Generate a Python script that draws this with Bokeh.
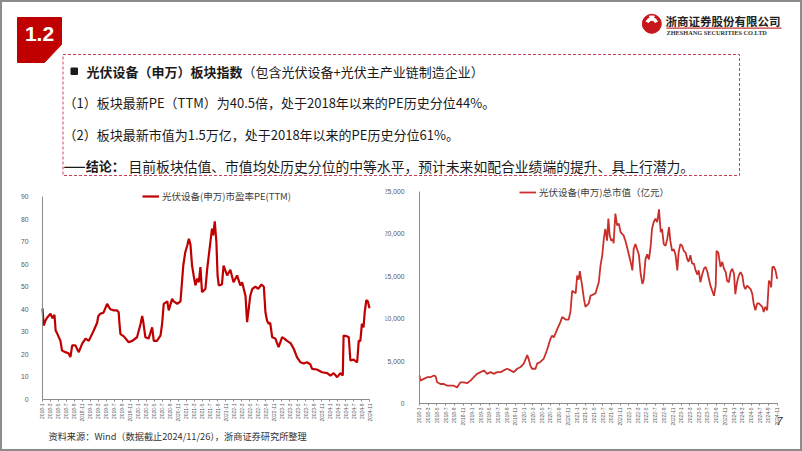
import math
from bokeh.plotting import figure
from bokeh.layouts import column, row
from bokeh.models import (Range1d, FixedTicker, Legend, LegendItem, Label, LinearAxis,
                          NumeralTickFormatter)
from bokeh.core.properties import value
from bokeh.embed import file_html
from bokeh.resources import INLINE

CJK = "Noto Sans CJK SC"
LAT = "Liberation Sans"

# ---------------- data ----------------
# x position = months since 2018-01
pe_month = [0.0, 0.3, 0.75, 1.25, 2.0, 2.5, 3.0, 3.3, 3.75, 4.5, 4.9, 5.75, 6.5, 7.0, 7.45,
            8.25, 9.1, 9.95, 10.8, 11.6, 12.85, 13.7, 14.0, 14.5, 15.3, 16.2, 17.0, 17.9,
            18.7, 19.1, 19.3, 19.55, 20.4, 21.6, 22.5, 23.7, 24.6, 25.0, 25.3, 25.8, 26.6,
            27.5, 27.9, 28.7, 29.6, 30.0, 30.4, 31.3, 31.65, 32.5, 32.9, 33.8, 34.6, 35.3,
            35.8, 36.3, 36.7, 37.1, 37.5, 37.9, 38.35, 38.8, 39.2, 39.6, 40.0, 40.85, 41.3,
            41.7, 42.1, 42.5, 42.8, 43.2, 43.6, 43.9, 44.2, 45.0, 45.4, 46.3, 47.1, 47.9,
            48.8, 49.6, 50.05, 50.9, 51.3, 51.7, 52.1, 52.6, 53.4, 54.1, 54.9, 55.5, 55.9,
            56.3, 56.7, 57.1, 57.6, 58.4, 59.2, 60.1, 60.65, 61.3, 62.2, 63.0, 63.8, 64.7,
            65.5, 66.3, 67.2, 67.6, 68.8, 70.1, 71.4, 72.2, 73.0, 73.9, 74.7, 75.3, 75.5,
            76.4, 76.8, 77.2, 78.0, 78.9, 79.3, 79.7, 80.1, 80.5, 80.8, 81.2, 81.6, 82.0]
pe_value = [40.4, 32.8, 35, 36.5, 38, 36, 37.5, 30.6, 29, 26, 21.7, 21, 20.5, 18.8, 24,
            24, 21, 24.8, 27, 26, 30.6, 34, 37, 38, 38.5, 42.4, 40, 39.5,
            39.5, 38.7, 33.6, 29, 28, 25.4, 26, 27.6, 33.6, 37, 34, 27.6, 27,
            32, 26, 26, 28.4, 33.6, 42.4, 43.5, 39.5, 44.6, 43.5, 42.4, 43.5, 59.4,
            65.3, 68.3, 71.3, 68.7, 59.4, 55, 50.6, 53.6, 52, 58.7, 47.6, 49, 57.9,
            63.9, 69.8, 75.7, 72.8, 79, 69.8, 55, 50.6, 51, 59.4, 55, 57.5, 52,
            55, 50.6, 52, 46, 34.3, 40, 46, 49, 50, 49, 51, 50, 38.7,
            35, 33.6, 34, 27.6, 27, 23.2, 27.6, 27, 26, 25, 22.5, 18.8, 16.5,
            16, 16.5, 15.5, 13.6, 13.3, 12.1, 11.7, 10.6, 11.7, 9.9, 11.7, 10.6, 28.4,
            28, 27.6, 17.3, 17.7, 16.5, 26, 26, 33.6, 32, 38.7, 44, 43.5, 40.5]

cap_month = [0.0, 0.2, 1.0, 1.75, 2.5, 3.3, 3.7, 4.05, 4.8, 5.6, 6.35, 7.1, 7.85, 8.6,
             9.4, 10.15, 10.9, 11.7, 12.45, 13.2, 14.0, 14.75, 15.5, 16.3, 17.0, 17.8,
             18.6, 19.3, 20.1, 20.9, 21.6, 22.4, 23.15, 23.9, 24.7, 25.05, 25.4, 25.8,
             26.6, 26.95, 27.7, 28.5, 29.3, 30.0, 30.4, 30.8, 31.6, 32.3, 32.7, 33.5,
             34.2, 34.6, 35.0, 35.8, 36.15, 36.5, 36.75, 37.3, 37.7, 38.05, 38.8, 39.2,
             40.0, 40.35, 41.1, 41.5, 41.9, 42.25, 42.6, 43.0, 43.3, 43.6, 43.95, 44.3,
             44.5, 44.9, 45.3, 45.7, 46.1, 46.8, 47.2, 47.6, 48.4, 48.8, 49.1, 49.5,
             50.3, 50.7, 51.1, 51.4, 51.8, 52.2, 52.6, 53.0, 53.3, 53.7, 54.1, 54.5,
             54.9, 55.3, 55.6, 56.0, 56.4, 56.8, 57.2, 57.5, 57.9, 58.3, 58.7, 59.1,
             59.4, 59.8, 60.2, 60.6, 61.0, 61.4, 61.7, 62.1, 62.5, 62.9, 63.3, 63.7,
             64.0, 64.4, 64.8, 65.2, 65.6, 66.0, 66.3, 66.7, 67.1, 67.5, 67.9, 68.1,
             68.5, 69.0, 69.4, 69.8, 70.2, 70.5, 70.9, 71.3, 71.7, 72.1, 72.4, 72.8,
             73.2, 73.6, 74.0, 74.35, 74.7, 75.1, 75.5, 75.9, 76.3, 76.6, 77.0, 77.4,
             77.8, 78.2, 78.6, 78.9, 79.3, 79.7, 80.1, 80.5, 80.6, 80.9, 81.25, 81.6, 82.0]
cap_value = [3300, 2700, 2900, 3100, 3100, 3300, 3200, 2500, 2300, 2300, 2100, 2100, 2100, 1900,
             2500, 2500, 2400, 2700, 3100, 3500, 3700, 3900, 3500, 3700, 3500, 3700,
             3700, 3900, 4100, 3900, 3700, 4100, 4300, 4700, 5700, 5200, 4500, 4100,
             4100, 4700, 4900, 5300, 6400, 7600, 8000, 7800, 8800, 9600, 10200, 9900,
             9900, 10800, 13300, 13000, 15100, 14600, 15600, 13800, 12300, 11400, 11800, 12700,
             12900, 13000, 14300, 16300, 17500, 19400, 20600, 19200, 21800, 19800, 19200, 19400,
             18900, 22400, 21000, 21200, 20200, 19800, 19200, 18400, 16700, 15700, 18200, 18800,
             17500, 15300, 14100, 14600, 17000, 17600, 17000, 18600, 20600, 21400, 21800, 21400,
             22900, 20200, 20600, 18800, 18600, 19400, 20800, 19200, 18000, 18200, 17500, 15700,
             17800, 18800, 18600, 18000, 17800, 17000, 16700, 17500, 16500, 16500, 15700, 15200,
             15700, 14300, 15200, 15900, 16100, 15500, 14800, 13900, 13300, 12700, 13900, 18000,
             17800, 16100, 16700, 15900, 15500, 14500, 14300, 15500, 15900, 15300, 12900, 14300,
             15100, 15500, 15100, 13900, 13500, 13900, 13700, 13500, 12900, 11800, 11000, 11800,
             11800, 11600, 11400, 10800, 11400, 11000, 14500, 14100, 13700, 16100, 16100, 15700, 14700]

x_tick_pos = list(range(0, 83, 2))
x_tick_labels = [f"{yr}-{mo}" for yr in range(2018, 2025) for mo in (1, 3, 5, 7, 9, 11)]
pe_ticks = [0, 10, 20, 30, 40, 50, 60, 70, 80, 90]
cap_ticks = [0, 5000, 10000, 15000, 20000, 25000]

pe_label = "光伏设备(申万)市盈率PE(TTM)"
cap_label = "光伏设备(申万)总市值（亿元）"
source_text = "资料来源：Wind（数据截止2024/11/26），浙商证券研究所整理"
page_no = "7"

TOP_H = 177
CHART_H = 451 - TOP_H

# ---------------- header / text box ----------------
top = figure(width=802, height=TOP_H, x_range=Range1d(0, 802), y_range=Range1d(TOP_H, 0),
             output_backend="svg", toolbar_location=None, min_border=0,
             x_axis_type=None, y_axis_type=None)
top.grid.visible = False
top.outline_line_color = None
top.background_fill_color = None
top.border_fill_color = None

# section badge
top.patch([17, 61, 61, 44, 17], [17, 17, 44, 62, 62], color="#C00000")
top.text([39], [33], text=["1.2"], text_font=value(LAT), text_font_style="bold",
         text_font_size="21px", text_color="white", text_align="center", text_baseline="middle")

# logo
top.circle([651.3], [23.3], radius=9.5, color="#C8161D")
top.annular_wedge([651.3], [23.0], inner_radius=3.2, outer_radius=6.0,
                  start_angle=math.radians(20), end_angle=math.radians(160), color="white")
top.scatter([651.3], [17.0], size=5, marker="triangle", color="white", angle=math.pi)
top.text([665], [20], text=["浙商证券股份有限公司"], text_font=value(CJK), text_font_style="bold",
         text_font_size="11.5px", text_color="#222222", text_baseline="middle")
top.segment([666], [27.6], [781], [27.6], line_color="#C00000", line_width=1)
top.text([666], [32], text=["ZHESHANG SECURITIES CO.LTD"], text_font=value("Liberation Serif"),
         text_font_style="bold", text_font_size="6.3px", text_color="#333333", text_baseline="middle")

# dashed box
top.quad(left=[62.5], right=[739], top=[54], bottom=[175], fill_color=None,
         line_color="#C8405A", line_width=1, line_dash="3 2")

# bullet
top.quad(left=[70.5], right=[77], top=[67.5], bottom=[74], color="#1a1a1a")

bold_kw = dict(text_font=value(CJK), text_font_style="bold", text_font_size="13px",
               text_color="#1a1a1a", text_baseline="middle")
norm_kw = dict(text_font=value(CJK), text_font_size="13px",
               text_color="#1a1a1a", text_baseline="middle")
top.text([86], [71], text=["光伏设备（申万）板块指数"], **bold_kw)
top.text([242], [71], text=["（包含光伏设备+光伏主产业链制造企业）"], **norm_kw)
top.text([63, 63], [102, 134],
         text=["（1）板块最新PE（TTM）为40.5倍，处于2018年以来的PE历史分位44%。",
               "（2）板块最新市值为1.5万亿，处于2018年以来的PE历史分位61%。"], **norm_kw)
top.text([63], [165], text=["——结论："], **bold_kw)
top.text([128], [165], text=["目前板块估值、市值均处历史分位的中等水平，预计未来如配合业绩端的提升、具上行潜力。"],
         text_font=value(CJK), text_font_size="13.8px", text_color="#1a1a1a", text_baseline="middle")


# ---------------- charts ----------------
# Each chart's frame covers its whole canvas; the axes are pinned at 0 with fixed_location
def make_chart(width, x_lo, x_hi, y_lo, y_hi, ymax, yticks, ystandoff):
    p = figure(width=width, height=CHART_H, x_range=Range1d(x_lo, x_hi), y_range=Range1d(y_lo, y_hi),
               output_backend="svg", toolbar_location=None, min_border=0,
               x_axis_type=None, y_axis_type=None)
    p.grid.visible = False
    p.outline_line_color = None
    p.background_fill_color = None
    p.border_fill_color = None
    ax = LinearAxis(fixed_location=0, bounds=(0, 82), ticker=FixedTicker(ticks=x_tick_pos))
    ax.major_label_overrides = {t: lab for t, lab in zip(x_tick_pos, x_tick_labels)}
    ax.major_label_orientation = math.pi / 2
    ax.major_label_text_font = LAT
    ax.major_label_text_font_size = "5px"
    ax.major_label_text_color = "#595959"
    ax.major_label_standoff = 2
    ax.major_tick_out = 2
    ax.major_tick_in = 0
    ax.minor_tick_line_color = None
    ax.axis_line_color = "#8a8a8a"
    ax.major_tick_line_color = "#8a8a8a"
    p.add_layout(ax, "below")
    ay = LinearAxis(fixed_location=0, bounds=(0, ymax), ticker=FixedTicker(ticks=yticks))
    ay.major_label_text_font = LAT
    ay.major_label_text_font_size = "6.8px"
    ay.major_label_text_color = "#595959"
    ay.major_label_standoff = ystandoff
    ay.major_tick_line_color = None
    ay.minor_tick_line_color = None
    ay.axis_line_color = "#8a8a8a"
    p.add_layout(ay, "left")
    return p, ay


def make_legend(label, renderer, loc):
    return Legend(items=[LegendItem(label=label, renderers=[renderer])], location=loc,
                  padding=0, margin=0, spacing=0, glyph_width=17, glyph_height=10,
                  label_height=10, label_standoff=3, border_line_color=None,
                  background_fill_alpha=0, label_text_font=CJK, label_text_font_size="9.5px",
                  label_text_color="#404040")


# left chart: canvas x 0..385, frame maps month 0..82 -> px 42..369 ; 0..90 -> local y 222..19
left, _ = make_chart(385, -10.532, 86.01, -23.05, 98.42, 90, pe_ticks, 8)
r1 = left.line(pe_month, pe_value, line_color="#C00000", line_width=2.2)
left.add_layout(make_legend(pe_label, r1, (142, 248)))
left.add_layout(Label(x=48, y=16, x_units="screen", y_units="screen", text=source_text,
                      text_font=CJK, text_font_size="9.2px", text_color="#333333",
                      text_baseline="middle"))

# right chart: canvas x 385..802, month 0..82 -> local px 34..391.7 ; 0..25000 -> local y 226..14
right, ay_r = make_chart(417, -7.794, 87.80, -5660, 26651, 25000, cap_ticks, 9)
ay_r.formatter = NumeralTickFormatter(format="0,0")
r2 = right.line(cap_month, cap_value, line_color="#C9302C", line_width=1.8)
right.add_layout(make_legend(cap_label, r2, (134, 252)))
right.add_layout(Label(x=394, y=31, x_units="screen", y_units="screen", text=page_no,
                       text_font=LAT, text_font_size="11px", text_font_style="italic",
                       text_color="#333333", text_align="center", text_baseline="middle"))

p = column(top, row(left, right), styles={"box-shadow": "inset 0 0 0 2px #8c8c8c"})

open("out.html", "w").write(file_html(p, INLINE))
